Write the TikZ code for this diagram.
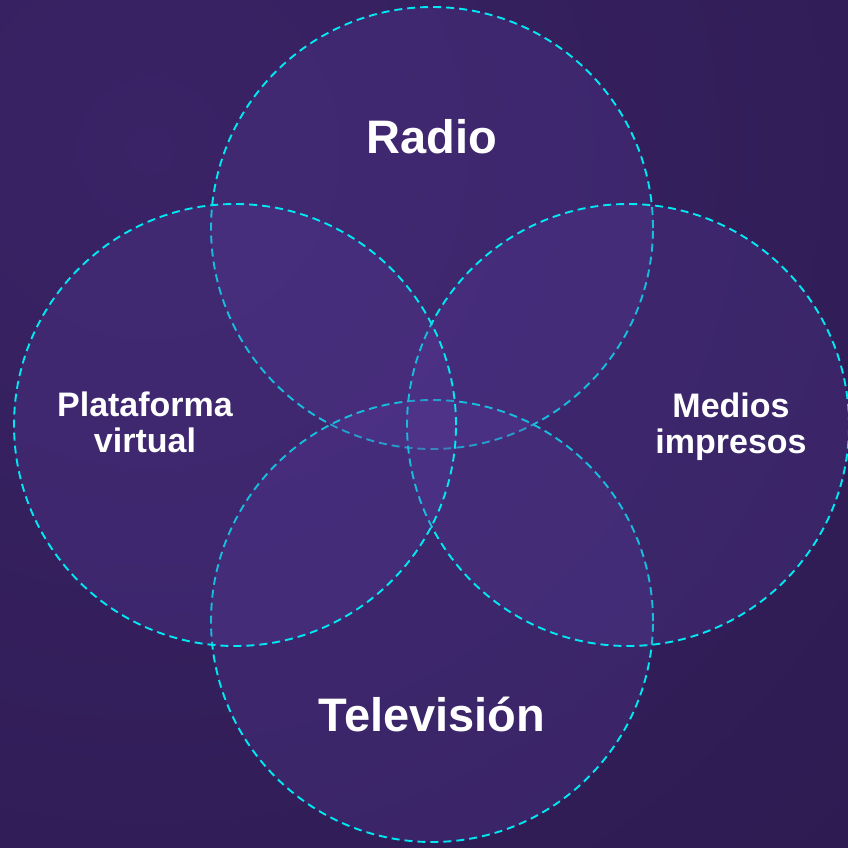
\documentclass[tikz,border=0pt]{standalone}
\usepackage{fontspec}
\setmainfont{Liberation Sans}
\definecolor{bginner}{HTML}{3A2366}
\definecolor{bgouter}{HTML}{22143F}
\definecolor{ringcol}{HTML}{00E8F2}
\definecolor{ringfill}{HTML}{5B3E9E}
\begin{document}
\begin{tikzpicture}[x=1pt,y=-1pt,
  ring/.style={circle, minimum size=442pt, inner sep=0pt, draw=ringcol,
    line width=1.9pt, dash pattern=on 8pt off 5pt,
    fill=ringfill, fill opacity=0.25, draw opacity=1},
  biglabel/.style={text=white, font=\bfseries\fontsize{47}{50}\selectfont, anchor=base, inner sep=0pt},
  smalllabel/.style={text=white, font=\bfseries\fontsize{34}{36}\selectfont, anchor=base, inner sep=0pt}]
\useasboundingbox (0,0) rectangle (848,847);
\begin{scope}
\clip (0,0) rectangle (848,847);
\shade[inner color=bginner, outer color=bgouter] (150,150) circle (1900);
\end{scope}
\node[ring] (radio) at (432,228) {};
\node[ring] (tele) at (432,621) {};
\node[ring] (medios) at (628,425) {};
\node[ring] (plat) at (235,425) {};
\node[biglabel] (tradio) at (432,153) {Radio};
\node[biglabel] (ttele) at (432,731) {Televisión};
\node[smalllabel] (tplat1) at (145,416) {Plataforma};
\node[smalllabel] (tplat2) at (145,452) {virtual};
\node[smalllabel] (tmed1) at (731,417) {Medios};
\node[smalllabel] (tmed2) at (731,453) {impresos};
\end{tikzpicture}
\end{document}
